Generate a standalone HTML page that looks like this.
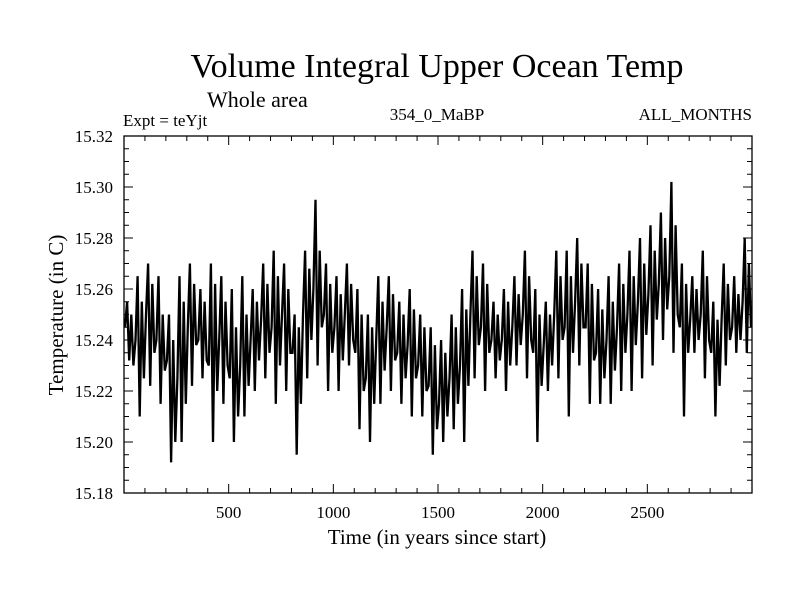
<!DOCTYPE html>
<html><head><meta charset="utf-8"><style>
html,body{margin:0;padding:0;background:#fff;}
svg text{font-family:"Liberation Serif",serif;fill:#000;}
</style></head><body>
<svg id="chart" width="800" height="600" xmlns="http://www.w3.org/2000/svg">
<text x="437" y="77" font-size="34" text-anchor="middle">Volume Integral Upper Ocean Temp</text>
<text x="207" y="107" font-size="22">Whole area</text>
<text x="123" y="126" font-size="17">Expt = teYjt</text>
<text x="437" y="120" font-size="17" text-anchor="middle">354_0_MaBP</text>
<text x="752" y="120" font-size="17" text-anchor="end">ALL_MONTHS</text>
<text x="437" y="544" font-size="21" text-anchor="middle">Time (in years since start)</text>
<text x="0" y="0" font-size="21" text-anchor="middle" transform="translate(63,315) rotate(-90)">Temperature (in C)</text>
<g id="axes"></g>
<g id="series"></g>
</svg>
<script>
const xTicks=[500,1000,1500,2000,2500];
const yTicks=[15.18,15.20,15.22,15.24,15.26,15.28,15.30,15.32];
const yTickLabels=["15.18","15.20","15.22","15.24","15.26","15.28","15.30","15.32"];
const years_step=10;
const temps=[
15.245,15.255,15.232,15.250,15.230, 15.240,15.265,15.210,15.255,15.225,
15.250,15.270,15.222,15.262,15.235, 15.240,15.265,15.215,15.250,15.228,
15.232,15.250,15.192,15.240,15.200, 15.225,15.265,15.200,15.255,15.215,
15.245,15.270,15.222,15.262,15.238, 15.240,15.260,15.225,15.255,15.232,
15.230,15.270,15.200,15.262,15.220, 15.240,15.265,15.215,15.255,15.230,
15.225,15.260,15.200,15.245,15.210, 15.230,15.265,15.210,15.250,15.222,
15.240,15.260,15.220,15.255,15.232, 15.248,15.270,15.225,15.262,15.235,
15.245,15.275,15.215,15.265,15.230, 15.250,15.270,15.220,15.260,15.235,
15.235,15.250,15.195,15.245,15.215, 15.250,15.275,15.225,15.268,15.240,
15.260,15.295,15.230,15.275,15.245, 15.250,15.270,15.220,15.262,15.235,
15.245,15.265,15.220,15.258,15.232, 15.250,15.270,15.230,15.262,15.240,
15.235,15.260,15.205,15.250,15.220, 15.225,15.250,15.200,15.245,15.215,
15.240,15.265,15.215,15.255,15.228, 15.245,15.265,15.220,15.258,15.232,
15.235,15.255,15.215,15.250,15.225, 15.238,15.260,15.210,15.252,15.225,
15.230,15.250,15.210,15.245,15.220, 15.222,15.245,15.195,15.238,15.205,
15.215,15.240,15.200,15.235,15.210, 15.225,15.250,15.205,15.245,15.215,
15.230,15.260,15.200,15.252,15.222, 15.250,15.275,15.225,15.265,15.238,
15.245,15.270,15.220,15.262,15.235, 15.240,15.255,15.225,15.250,15.232,
15.240,15.260,15.220,15.255,15.230, 15.245,15.265,15.230,15.258,15.238,
15.250,15.275,15.225,15.265,15.240, 15.235,15.260,15.200,15.250,15.222,
15.238,15.255,15.220,15.250,15.230, 15.250,15.275,15.225,15.265,15.240,
15.245,15.275,15.210,15.265,15.235, 15.255,15.280,15.230,15.270,15.245,
15.245,15.270,15.215,15.262,15.232, 15.235,15.260,15.215,15.252,15.225,
15.240,15.265,15.215,15.255,15.228, 15.245,15.270,15.220,15.262,15.235,
15.250,15.275,15.220,15.265,15.238, 15.255,15.280,15.225,15.270,15.242,
15.258,15.285,15.230,15.275,15.248, 15.262,15.290,15.240,15.280,15.252,
15.265,15.302,15.235,15.285,15.250, 15.245,15.270,15.210,15.262,15.235,
15.248,15.265,15.235,15.260,15.240, 15.250,15.275,15.225,15.265,15.240,
15.235,15.255,15.210,15.248,15.222, 15.248,15.270,15.230,15.262,15.240,
15.245,15.265,15.235,15.258,15.240, 15.255,15.280,15.235,15.270,15.245
];
const X0=124,X1=752,Y0=493,Y1=136,XMIN=0,XMAX=3000,YMIN=15.18,YMAX=15.32;
const xs=v=>X0+(v-XMIN)/(XMAX-XMIN)*(X1-X0);
const ys=v=>Y0-(v-YMIN)/(YMAX-YMIN)*(Y0-Y1);
const NS="http://www.w3.org/2000/svg";
const axes=document.getElementById('axes');
function mk(tag,attrs,parent){const e=document.createElementNS(NS,tag);for(const k in attrs)e.setAttribute(k,attrs[k]);parent.appendChild(e);return e;}
const frame=mk('rect',{x:X0,y:Y1,width:X1-X0,height:Y0-Y1,fill:'none',stroke:'#000','stroke-width':1.3},axes);


for(let t=100;t<XMAX;t+=100){
  const x=xs(t),L=(t%500===0)?9:5;
  const a=mk('line',{x1:x,x2:x,y1:Y0,y2:Y0-L,stroke:'#000','stroke-width':1},axes);
  
  
  const b=mk('line',{x1:x,x2:x,y1:Y1,y2:Y1+L,stroke:'#000','stroke-width':1},axes);
  
  
}
xTicks.forEach(t=>{
  const tx=mk('text',{x:xs(t),y:Y0+25,'font-size':17,'text-anchor':'middle'},axes);
  tx.textContent=String(t);
  
  
});
for(let i=1;i<28;i++){
  const v=YMIN+i*0.005,y=ys(v),L=(i%4===0)?9:5;
  const a=mk('line',{x1:X0,x2:X0+L,y1:y,y2:y,stroke:'#000','stroke-width':1},axes);
  
  
  const b=mk('line',{x1:X1,x2:X1-L,y1:y,y2:y,stroke:'#000','stroke-width':1},axes);
  
  
}
yTicks.forEach((v,i)=>{
  const tx=mk('text',{x:113,y:ys(v)+6,'font-size':17,'text-anchor':'end'},axes);
  tx.textContent=yTickLabels[i];
  
  
});
let d='';
temps.forEach((v,i)=>{const t=i*years_step+5;d+=(i?'L':'M')+xs(t).toFixed(1)+' '+ys(v).toFixed(1);});
const p=mk('path',{d:d,fill:'none',stroke:'#000','stroke-width':2.3,'stroke-linejoin':'miter'},document.getElementById('series'));


</script>
</body></html>
